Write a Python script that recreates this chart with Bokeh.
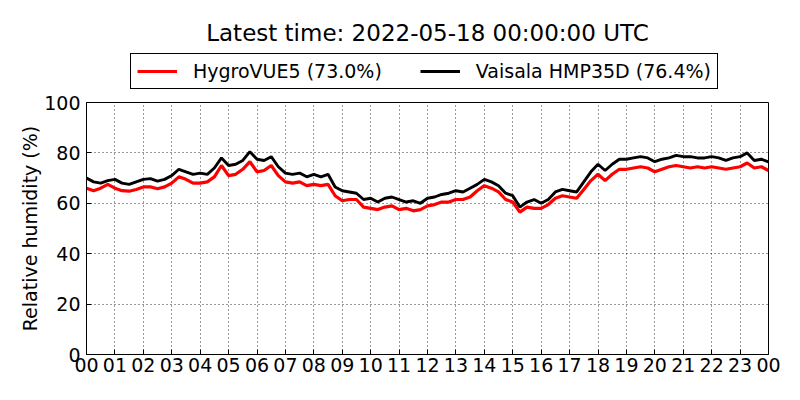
from bokeh.plotting import figure
from bokeh.layouts import column
from bokeh.models import (Range1d, FixedTicker, Legend, LegendItem, Title)
from bokeh.embed import file_html
from bokeh.resources import INLINE

# ---- data (hours since 2022-05-17 00:00 UTC, 15-min steps) ----
hours = [i * 0.25 for i in range(97)]

hygrovue5 = [
    66.0, 65.0, 66.0, 67.5, 66.0, 65.0, 64.8, 65.5,
    66.5, 66.5, 65.8, 66.5, 68.0, 70.5, 69.5, 68.0,
    68.0, 68.5, 70.5, 75.0, 71.0, 71.5, 73.5, 76.5,
    72.5, 73.0, 75.0, 71.0, 68.5, 68.0, 68.5, 67.0,
    67.5, 67.0, 67.5, 63.0, 61.0, 61.5, 61.5, 58.5,
    58.0, 57.5, 58.5, 59.0, 57.5, 58.0, 57.0, 57.5,
    59.0, 59.5, 60.5, 60.5, 61.5, 61.5, 62.5, 65.0,
    67.0, 66.0, 64.5, 61.5, 60.5, 56.5, 58.5, 58.0,
    58.0, 59.5, 62.0, 63.0, 62.5, 62.0, 65.5, 69.0,
    71.5, 69.0, 71.5, 73.5, 73.5, 74.0, 74.5, 74.0,
    72.5, 73.5, 74.5, 75.0, 74.5, 74.0, 74.5, 74.0,
    74.5, 74.0, 73.5, 74.0, 74.5, 76.0, 74.0, 74.5,
    73.0,
]

hmp35d = [
    70.0, 68.5, 68.0, 69.0, 69.5, 68.0, 67.5, 68.5,
    69.5, 69.8, 68.8, 69.5, 71.0, 73.5, 72.5, 71.5,
    72.0, 71.5, 74.0, 78.0, 75.0, 75.5, 77.0, 80.5,
    77.5, 77.0, 78.5, 74.5, 72.0, 71.5, 72.0, 70.5,
    71.5, 70.5, 71.5, 66.5, 65.0, 64.5, 64.0, 61.5,
    62.0, 60.5, 62.0, 62.5, 61.5, 60.5, 61.0, 60.0,
    62.0, 62.5, 63.5, 64.0, 65.0, 64.5, 66.0, 67.5,
    69.5, 68.5, 67.0, 64.0, 63.0, 58.5, 60.5, 61.5,
    60.0, 61.5, 64.5, 65.5, 65.0, 64.5, 68.5, 72.5,
    75.5, 73.0, 75.5, 77.5, 77.5, 78.0, 78.5, 78.0,
    76.5, 77.5, 78.0, 79.0, 78.5, 78.5, 78.0, 78.0,
    78.5, 78.0, 77.0, 78.0, 78.5, 80.0, 77.0, 77.5,
    76.4,
]

x_ticks = list(range(25))
x_tick_labels = ["%02d" % (h % 24) for h in x_ticks]
y_ticks = [0, 20, 40, 60, 80, 100]

title_text = "Latest time: 2022-05-18 00:00:00 UTC"
label_hygro = "HygroVUE5 (73.0%)"
label_vais = "Vaisala HMP35D (76.4%)"
colors = ["#ff0000", "#000000"]

FONT = "DejaVu Sans"
LW = 2.9

# ---------- header: title + legend ----------
head = figure(width=800, height=90, output_backend="svg", toolbar_location=None,
              x_range=Range1d(0, 24), y_range=Range1d(200, 300),
              min_border_left=86, min_border_right=32, min_border_top=48,
              min_border_bottom=0)
head.axis.visible = False
head.grid.visible = False
head.outline_line_color = None
head.background_fill_color = "white"
head.border_fill_color = "white"
# same series drawn off-range in the header so the legend has real line glyphs
h1 = head.line(hours, hygrovue5, line_color=colors[0], line_width=LW)
h2 = head.line(hours, hmp35d, line_color=colors[1], line_width=LW)
head.title = Title(text=title_text, align="center", text_font=FONT,
                   text_font_size="23px", text_font_style="normal",
                   text_color="black", standoff=6)
legend = Legend(items=[LegendItem(label=label_hygro, renderers=[h1]),
                       LegendItem(label=label_vais, renderers=[h2])],
                orientation="horizontal", location=(44, 1))
legend.label_text_font = FONT
legend.label_text_font_size = "19px"
legend.label_text_color = "black"
legend.border_line_color = "black"
legend.border_line_width = 1
legend.border_line_alpha = 1
legend.background_fill_color = "white"
legend.glyph_width = 40
legend.glyph_height = 20
legend.label_height = 20
legend.label_standoff = 16
legend.spacing = 38
legend.padding = 6
legend.margin = 0
head.add_layout(legend, "center")

# ---------- main plot ----------
p = figure(width=800, height=310, output_backend="svg", toolbar_location=None,
           x_range=Range1d(0, 24), y_range=Range1d(0, 100),
           min_border_left=86, min_border_right=32, min_border_bottom=46,
           min_border_top=12)
p.background_fill_color = "white"
p.border_fill_color = "white"
p.outline_line_color = "black"
p.outline_line_width = 1

p.line(hours, hygrovue5, line_color=colors[0], line_width=LW + 0.3)
p.line(hours, hmp35d, line_color=colors[1], line_width=LW)

xa = p.xaxis[0]
xa.ticker = FixedTicker(ticks=x_ticks)
xa.major_label_overrides = {t: l for t, l in zip(x_ticks, x_tick_labels)}
ya = p.yaxis[0]
ya.ticker = FixedTicker(ticks=y_ticks)
ya.axis_label = "Relative humidity (%)"
for ax in (xa, ya):
    ax.major_label_text_font = FONT
    ax.major_label_text_font_size = "19px"
    ax.major_label_text_color = "black"
    ax.axis_line_color = "black"
    ax.major_tick_in = 5
    ax.major_tick_out = 0
    ax.minor_tick_in = 0
    ax.minor_tick_out = 0
    ax.major_tick_line_color = "black"
xa.major_label_standoff = 3
ya.major_label_standoff = 6
ya.axis_label_text_font = FONT
ya.axis_label_text_font_size = "19px"
ya.axis_label_text_font_style = "normal"
ya.axis_label_text_color = "black"
ya.axis_label_standoff = 0

for g in (p.xgrid[0], p.ygrid[0]):
    g.grid_line_color = "black"
    g.grid_line_dash = "1 3"
    g.grid_line_width = 1
    g.grid_line_alpha = 0.8
p.xgrid[0].ticker = FixedTicker(ticks=x_ticks)
p.ygrid[0].ticker = FixedTicker(ticks=y_ticks)

layout = column(head, p, spacing=0)
open("out.html", "w").write(file_html(layout, INLINE))
